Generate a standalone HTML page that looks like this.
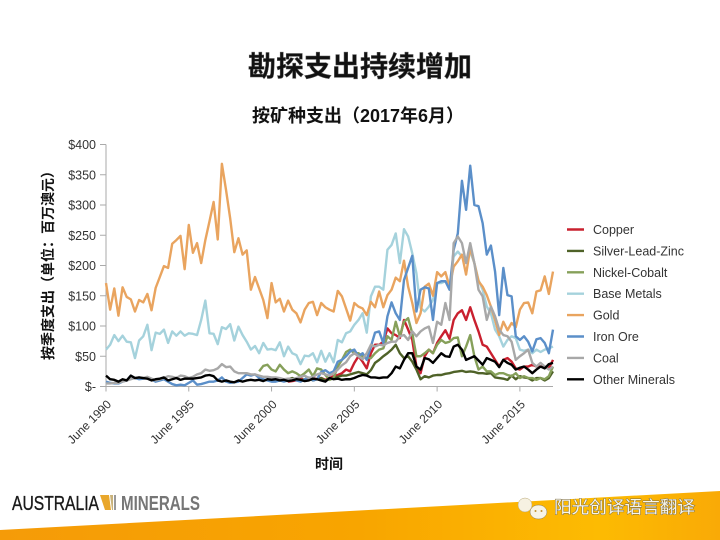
<!DOCTYPE html>
<html lang="zh">
<head>
<meta charset="utf-8">
<title>勘探支出持续增加</title>
<style>
html,body{margin:0;padding:0;background:#fff}
#stage{position:relative;width:720px;height:540px;overflow:hidden;background:#fff}
svg{position:absolute;left:0;top:0}
text{font-family:"Liberation Sans","Noto Sans CJK SC",sans-serif}
</style>
</head>
<body>
<div id="stage">
<svg id="chart" width="720" height="540" viewBox="0 0 720 540">
  <defs>
    <linearGradient id="footerGrad" x1="0" y1="0" x2="1" y2="0">
      <stop offset="0" stop-color="#f59b08"/>
      <stop offset="0.5" stop-color="#f8a500"/>
      <stop offset="0.83" stop-color="#fdbb02"/>
      <stop offset="1" stop-color="#f9aa06"/>
    </linearGradient>
  </defs>
  <text x="360" y="76" text-anchor="middle" font-size="28" font-weight="700" fill="#111" stroke="#555" stroke-width="0.5">勘探支出持续增加</text>
  <text x="358" y="122" text-anchor="middle" font-size="18" font-weight="700" fill="#111">按矿种支出（2017年6月）</text>
  <text transform="translate(53,262) rotate(-90)" text-anchor="middle" font-size="14" font-weight="700" fill="#111">按季度支出（单位：百万澳元）</text>
  <text x="329" y="469" text-anchor="middle" font-size="14" font-weight="700" fill="#111">时间</text>

  <g id="axes"></g>
  <g id="marks"></g>
  <g id="legend"></g>

  <polygon points="0,530 720,491 720,540 0,540" fill="url(#footerGrad)"/>
  <text x="12" y="510" font-size="20.5" fill="#1a1a1a" stroke="#1a1a1a" stroke-width="0.35" textLength="87" lengthAdjust="spacingAndGlyphs">AUSTRALIA</text>
  <g>
    <polygon points="100,495 109,495 111,510 105,510" fill="#e9a72b"/>
    <polygon points="110,495 113,495 113,510 112,510" fill="#c9b27a"/>
    <polygon points="114,495 116,495 116,510 114,510" fill="#9a9a9a"/>
  </g>
  <text x="121" y="510" font-size="20.5" font-weight="700" fill="#767676" textLength="79" lengthAdjust="spacingAndGlyphs">MINERALS</text>
  <ellipse cx="525" cy="505" rx="7" ry="7" fill="#f6f1e2" stroke="#b9a878" stroke-width="0.5"/>
  <ellipse cx="538.5" cy="512" rx="8.5" ry="7" fill="#f7f3e6" stroke="#8a7a50" stroke-width="0.5"/>
  <circle cx="535.5" cy="511" r="1" fill="#c09030"/>
  <circle cx="541.5" cy="511" r="1" fill="#c09030"/>
  <text x="554" y="513" font-size="17" fill="#f8f6ec" stroke="#7a6a40" stroke-width="0.9" paint-order="stroke" textLength="141" lengthAdjust="spacingAndGlyphs">阳光创译语言翻译</text>
</svg>
</div>
<script>
const yTickValues = [0, 50, 100, 150, 200, 250, 300, 350, 400];
const yTickLabels = ["$-", "$50", "$100", "$150", "$200", "$250", "$300", "$350", "$400"];
const xTickQuarters = [0, 20, 40, 60, 80, 100];
const xTickLabels = ["June 1990", "June 1995", "June 2000", "June 2005", "June 2010", "June 2015"];
const quarterCount = 109;

const copperValues = [null,null,null,null,null,null,null,null,null,null,null,null,null,null,null,null,null,null,null,null,null,null,null,null,null,null,null,null,null,null,null,null,null,null,null,null,null,null,null,null,null,null,null,null,8,9,10,14,10,12,14,12,14,11,14,17,19,22,28,25,39,50,41,30,55,69,69,74,96,88,85,80,110,94,77,33,22,50,61,55,72,83,93,79,110,121,126,110,131,110,91,69,66,55,44,33,44,47,41,30,28,33,33,36,33,33,33,30,44];
const silverValues = [null,null,null,null,null,null,null,null,null,null,null,null,null,null,null,null,null,null,null,null,null,null,null,null,null,null,null,null,null,null,null,null,null,null,null,null,null,null,null,null,null,null,null,null,12,14,12,10,12,14,10,12,14,10,12,14,16,18,18,20,22,24,22,20,27,39,44,50,55,61,69,55,47,50,41,28,12,17,15,18,19,19,21,22,24,25,26,24,25,24,22,22,21,22,15,14,13,11,18,12,17,15,14,10,14,14,10,14,25];
const nickelValues = [null,null,null,null,null,null,null,null,null,null,null,null,null,null,null,null,null,null,null,null,null,null,null,null,null,null,null,null,null,null,null,null,null,null,null,null,null,25,34,36,28,25,36,28,22,25,22,17,22,28,17,30,28,19,11,14,33,44,57,61,55,55,50,47,47,55,61,63,83,77,107,83,107,113,88,50,50,55,61,55,69,77,72,74,80,81,50,66,85,50,28,33,25,25,19,22,22,19,17,22,14,17,14,14,11,14,12,17,33];
const baseMetalsValues = [61,69,85,75,84,74,73,47,76,83,102,60,89,87,94,72,91,84,91,84,88,87,85,110,142,88,87,70,98,95,103,76,99,85,74,61,67,55,72,61,62,60,73,50,66,55,52,37,51,50,55,40,59,41,55,40,77,73,88,91,102,110,121,89,149,165,165,160,226,234,253,204,260,248,220,187,130,124,132,143,171,171,174,165,215,223,215,206,223,204,176,160,132,121,94,83,66,77,83,80,61,59,61,55,61,57,61,63,66];
const goldValues = [171,127,162,117,164,148,144,124,143,139,153,126,163,181,199,196,236,242,249,194,267,221,237,204,242,273,305,243,368,325,278,222,245,218,225,160,181,162,143,113,171,139,145,124,142,127,121,106,127,138,140,118,138,131,127,124,158,149,129,109,138,132,129,118,140,131,157,131,151,160,180,174,208,165,138,105,121,165,170,150,189,182,189,165,198,207,218,185,229,204,174,165,151,132,110,85,107,93,105,98,127,138,139,121,157,159,182,153,190];
const ironOreValues = [8,6,5,5,8,10,18,14,12,13,14,12,8,10,12,8,4,2,3,2,6,10,3,4,6,8,8,10,15,8,6,7,8,14,20,18,20,14,12,10,8,8,10,8,10,12,10,8,12,15,10,12,24,27,22,25,41,44,50,58,61,50,55,44,66,89,91,72,116,139,121,110,176,196,216,124,160,164,162,110,171,174,174,160,226,253,340,292,365,300,298,270,218,233,190,118,196,151,149,83,77,83,74,58,78,80,72,55,94];
const coalValues = [5,5,6,6,8,10,12,14,15,14,16,13,10,12,14,17,16,14,18,17,14,16,20,22,28,26,27,30,37,32,33,25,22,22,22,20,20,18,16,16,15,15,14,12,13,12,14,16,18,14,16,20,22,20,18,22,28,35,40,50,55,50,45,55,69,66,69,68,72,74,74,83,85,77,91,83,91,96,99,72,107,102,138,110,237,248,237,204,237,204,160,149,110,132,116,94,85,83,74,44,50,55,61,39,33,39,33,28,33];
const otherMineralsValues = [18,12,11,8,12,10,18,14,15,14,13,10,12,13,15,10,12,14,11,13,13,13,14,15,18,19,17,10,8,10,8,7,10,8,10,11,10,11,9,12,11,12,10,11,9,10,12,11,9,10,13,12,10,8,14,12,13,11,12,12,14,17,19,18,15,15,14,15,15,22,33,30,44,55,55,33,28,47,45,39,47,55,50,49,66,69,61,44,47,50,43,36,47,44,41,32,44,39,36,28,31,33,28,22,28,33,30,37,39];

const seriesNames = ["Copper", "Silver-Lead-Zinc", "Nickel-Cobalt", "Base Metals", "Gold", "Iron Ore", "Coal", "Other Minerals"];
const seriesColors = ["#c9202f", "#4f6228", "#86a05a", "#a5d2dc", "#e9a45f", "#5b8fc9", "#a8a8a8", "#000000"];
const seriesValues = [copperValues, silverValues, nickelValues, baseMetalsValues, goldValues, ironOreValues, coalValues, otherMineralsValues];
const svgNS = "http://www.w3.org/2000/svg";

function xScale(q) { return 106 + (553 - 106) * q / (quarterCount - 1); }
function yScale(v) { return 386.5 - (386.5 - 144.5) * v / 400; }
function mk(tag, attrs, parent) {
  const el = document.createElementNS(svgNS, tag);
  for (const k in attrs) el.setAttribute(k, attrs[k]);
  parent.appendChild(el);
  return el;
}

const axes = document.getElementById("axes");
const marks = document.getElementById("marks");
const legend = document.getElementById("legend");

const yAxisLine = mk("line", {x1: 106, y1: yScale(400), x2: 106, y2: yScale(0) + 5, stroke: "#aaa", "stroke-width": 1}, axes);


const xAxisLine = mk("line", {x1: 106, y1: yScale(0), x2: 553, y2: yScale(0), stroke: "#aaa", "stroke-width": 1}, axes);



yTickValues.forEach(function (v, i) {
  const tick = mk("line", {x1: 100, y1: yScale(v), x2: 106, y2: yScale(v), stroke: "#aaa", "stroke-width": 1}, axes);
  
  
  const label = mk("text", {x: 96, y: yScale(v) + 4.5, "text-anchor": "end", "font-size": 12.5, fill: "#333"}, axes);
  
  
  label.textContent = yTickLabels[i];
});

xTickQuarters.forEach(function (q, i) {
  const x = xScale(q);
  const tick = mk("line", {x1: x, y1: yScale(0), x2: x, y2: yScale(0) + 5, stroke: "#aaa", "stroke-width": 1}, axes);
  
  
  const label = mk("text", {transform: "translate(" + (x + 6) + ",405) rotate(-45)", "text-anchor": "end", "font-size": 12, fill: "#333"}, axes);
  
  
  label.textContent = xTickLabels[i];
});

seriesNames.forEach(function (name, s) {
  const values = seriesValues[s];
  let d = "";
  values.forEach(function (v, q) {
    if (v === null) return;
    d += (d ? "L" : "M") + xScale(q).toFixed(2) + "," + yScale(v).toFixed(2);
  });
  const line = mk("path", {d: d, fill: "none", stroke: seriesColors[s], "stroke-width": 2.4, "stroke-linejoin": "round"}, marks);
  
  line.setAttribute('data-series', name);
  

  const ly = 229.5 + s * 21.4;
  const swatch = mk("line", {x1: 567, y1: ly, x2: 584, y2: ly, stroke: seriesColors[s], "stroke-width": 2.4}, legend);
  
  
  const label = mk("text", {x: 593, y: ly + 4.5, "font-size": 12.5, fill: "#333"}, legend);
  
  
  label.textContent = name;
});
</script>
</body>
</html>
